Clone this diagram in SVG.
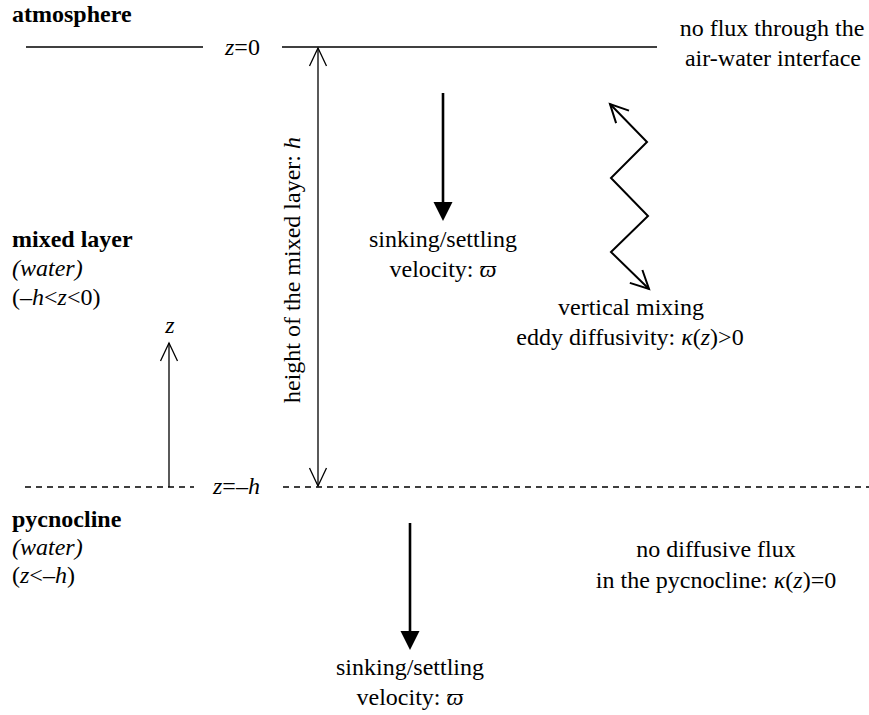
<svg xmlns="http://www.w3.org/2000/svg" width="869" height="715" viewBox="0 0 869 715">
<style>
  text { font-family: "Liberation Serif", "Times New Roman", Times, serif; font-size: 24px; fill: #000; }
  .b { font-weight: bold; }
  .i { font-style: italic; }
  .c { text-anchor: middle; }
  .solid { stroke: #000; stroke-width: 1.6; fill: none; }
  .dash { stroke: #000; stroke-width: 1.4; stroke-dasharray: 6 5; fill: none; }
  .thin { stroke: #000; stroke-width: 1.3; fill: none; }
  .thick { stroke: #000; stroke-width: 2.6; fill: none; }
  .zig { stroke: #000; stroke-width: 2; fill: none; stroke-linejoin: miter; }
</style>
<defs>
  <marker id="openThin" markerUnits="userSpaceOnUse" markerWidth="1" markerHeight="1" refX="0" refY="0" orient="auto-start-reverse" overflow="visible">
    <path d="M-18,-8.5 L0,0 L-18,8.5" fill="none" stroke="#000" stroke-width="1.3"/>
  </marker>
  <marker id="openThick" markerUnits="userSpaceOnUse" markerWidth="1" markerHeight="1" refX="0" refY="0" orient="auto-start-reverse" overflow="visible">
    <path d="M-18,-9 L0,0 L-18,9" fill="none" stroke="#000" stroke-width="2"/>
  </marker>
  <marker id="solidHead" markerUnits="userSpaceOnUse" markerWidth="1" markerHeight="1" refX="0" refY="0" orient="auto" overflow="visible">
    <path d="M0,-9.5 L19,0 L0,9.5 Z" fill="#000"/>
  </marker>
</defs>

<g id="boundaries">
  <line class="solid" x1="26" y1="47" x2="203" y2="47"/>
  <line class="solid" x1="282" y1="47" x2="657" y2="47"/>
  <line class="dash" x1="25" y1="487" x2="194" y2="487"/>
  <line class="dash" x1="283" y1="487" x2="869" y2="487"/>
</g>

<g id="labels-left">
  <text class="b" x="12" y="22">atmosphere</text>
  <text class="b" x="12" y="247">mixed layer</text>
  <text class="i" x="12" y="276">(water)</text>
  <text x="12" y="305">(–<tspan class="i">h</tspan>&lt;<tspan class="i">z</tspan>&lt;0)</text>
  <text class="b" x="12" y="527">pycnocline</text>
  <text class="i" x="12" y="555">(water)</text>
  <text x="12" y="583">(<tspan class="i">z</tspan>&lt;–<tspan class="i">h</tspan>)</text>
</g>

<g id="level-labels">
  <text x="225" y="55"><tspan class="i">z</tspan>=0</text>
  <text x="213" y="494"><tspan class="i">z</tspan>=–<tspan class="i">h</tspan></text>
  <text class="i c" x="170" y="333">z</text>
</g>

<g id="height-label">
  <text class="c" transform="translate(300,270) rotate(-90)">height of the mixed layer: <tspan class="i">h</tspan></text>
</g>

<g id="flux-top">
  <text class="c" x="772" y="36">no flux through the</text>
  <text class="c" x="773" y="66">air-water interface</text>
</g>

<g id="sinking-top">
  <text class="c" x="443" y="247">sinking/settling</text>
  <text class="c" x="443" y="277">velocity: <tspan class="i">ϖ</tspan></text>
</g>

<g id="mixing">
  <text class="c" x="631" y="315">vertical mixing</text>
  <text class="c" x="630" y="345">eddy diffusivity: <tspan class="i">κ</tspan>(<tspan class="i">z</tspan>)&gt;0</text>
</g>

<g id="sinking-bottom">
  <text class="c" x="410" y="675">sinking/settling</text>
  <text class="c" x="410" y="705">velocity: <tspan class="i">ϖ</tspan></text>
</g>

<g id="flux-bottom">
  <text class="c" x="716" y="557">no diffusive flux</text>
  <text class="c" x="716" y="588">in the pycnocline: <tspan class="i">κ</tspan>(<tspan class="i">z</tspan>)=0</text>
</g>

<g id="connectors">
  <line class="thin" x1="318" y1="48" x2="318" y2="486" marker-start="url(#openThin)" marker-end="url(#openThin)"/>
  <line class="thin" x1="169" y1="487" x2="169" y2="343" marker-end="url(#openThin)"/>
  <line class="thick" x1="443" y1="93" x2="443" y2="202" marker-end="url(#solidHead)"/>
  <line class="thick" x1="410" y1="523" x2="410" y2="631" marker-end="url(#solidHead)"/>
  <polyline class="zig" points="610,104 647,142 611,178 648,216 611,252 649,289" marker-start="url(#openThick)" marker-end="url(#openThick)"/>
</g>
</svg>
